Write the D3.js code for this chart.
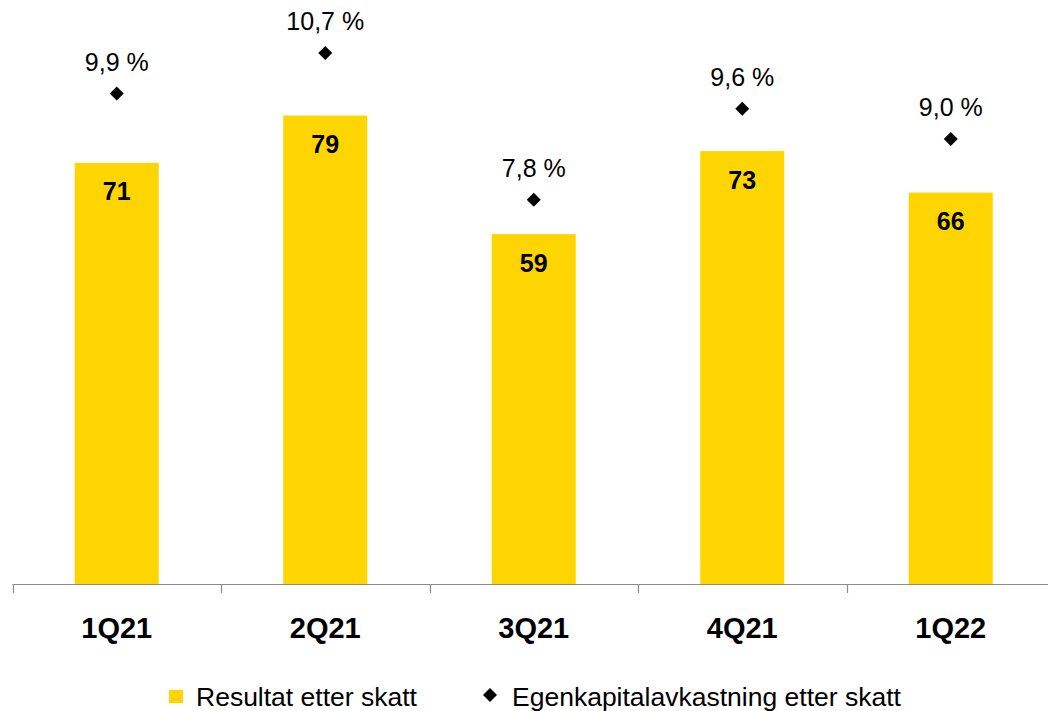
<!DOCTYPE html>
<html>
<head>
<meta charset="utf-8">
<script src="https://cdn.jsdelivr.net/npm/d3@7"></script>
<style>
  html, body { margin: 0; padding: 0; background: #fff; }
  svg { display: block; font-family: Arial, "Liberation Sans", sans-serif; }
</style>
</head>
<body>
<svg id="chart" width="1048" height="711"></svg>
<script>
// Quarterly net result (MNOK) and return on equity (%)
const quarters = ["1Q21", "2Q21", "3Q21", "4Q21", "1Q22"];
const resultAfterTax = [71, 79, 59, 73, 66];
const returnOnEquity = [9.9, 10.7, 7.8, 9.6, 9.0];
const seriesNames = ["Resultat etter skatt", "Egenkapitalavkastning etter skatt"];

const barColor = "#FFD500";
const axisColor = "#8C8C8C";

const svg = d3.select("#chart");
const baseline = 584;

const x = d3.scaleBand()
  .domain(quarters)
  .range([12.5, 1055])
  .paddingInner(0.597)
  .paddingOuter(0.2985);

const y = d3.scaleLinear().domain([0, 100]).range([baseline, -9]);
const y2 = d3.scaleLinear().domain([0, 12]).range([594.5, 594.5 - 12 * 50.6]);

const fmtPct = d => d.toFixed(1).replace(".", ",") + " %";
const diamondPath = d3.symbol().type(d3.symbolSquare).size(98);

// Bars
svg.append("g").selectAll("rect")
  .data(quarters)
  .join("rect")
  .attr("x", d => x(d))
  .attr("y", (d, i) => y(resultAfterTax[i]))
  .attr("width", x.bandwidth())
  .attr("height", (d, i) => baseline - y(resultAfterTax[i]))
  .attr("fill", barColor);

// Bar value labels
svg.append("g").selectAll("text")
  .data(quarters)
  .join("text")
  .attr("x", d => x(d) + x.bandwidth() / 2)
  .attr("y", (d, i) => y(resultAfterTax[i]) + 37.5)
  .attr("text-anchor", "middle")
  .attr("font-size", 25)
  .attr("font-weight", "bold")
  .attr("fill", "#000")
  .text((d, i) => resultAfterTax[i]);

// Category axis
const axisG = svg.append("g");
axisG.append("line")
  .attr("x1", x.range()[0]).attr("x2", 1048)
  .attr("y1", baseline + 0.5).attr("y2", baseline + 0.5)
  .attr("stroke", axisColor).attr("stroke-width", 1.2);
const step = x.step();
d3.range(quarters.length + 1).forEach(i => {
  const tx = Math.round(x.range()[0] + i * step) + 0.5;
  axisG.append("line")
    .attr("x1", tx).attr("x2", tx)
    .attr("y1", baseline).attr("y2", baseline + 9)
    .attr("stroke", axisColor).attr("stroke-width", 1.2);
});
axisG.selectAll("text")
  .data(quarters)
  .join("text")
  .attr("x", d => x(d) + x.bandwidth() / 2)
  .attr("y", 638)
  .attr("text-anchor", "middle")
  .attr("font-size", 29)
  .attr("font-weight", "bold")
  .attr("fill", "#000")
  .text(d => d);

// ROE markers (squares rotated into diamonds)
svg.append("g").selectAll("path")
  .data(quarters)
  .join("path")
  .attr("d", diamondPath)
  .attr("transform", (d, i) =>
    `translate(${x(d) + x.bandwidth() / 2},${y2(returnOnEquity[i])}) rotate(45)`)
  .attr("fill", "#000");

svg.append("g").selectAll("text")
  .data(quarters)
  .join("text")
  .attr("x", d => x(d) + x.bandwidth() / 2)
  .attr("y", (d, i) => y2(returnOnEquity[i]) - 23)
  .attr("text-anchor", "middle")
  .attr("font-size", 25)
  .attr("fill", "#000")
  .text((d, i) => fmtPct(returnOnEquity[i]));

// Legend
const legend = svg.append("g");
legend.append("rect")
  .attr("x", 169).attr("y", 690).attr("width", 14).attr("height", 13)
  .attr("fill", barColor);
legend.append("text")
  .attr("x", 196).attr("y", 706)
  .attr("font-size", 26.5).attr("fill", "#000")
  .text(seriesNames[0]);
legend.append("path")
  .attr("d", diamondPath)
  .attr("transform", "translate(490,695) rotate(45)")
  .attr("fill", "#000");
legend.append("text")
  .attr("x", 512).attr("y", 706)
  .attr("font-size", 26.5).attr("fill", "#000")
  .text(seriesNames[1]);
</script>
</body>
</html>
